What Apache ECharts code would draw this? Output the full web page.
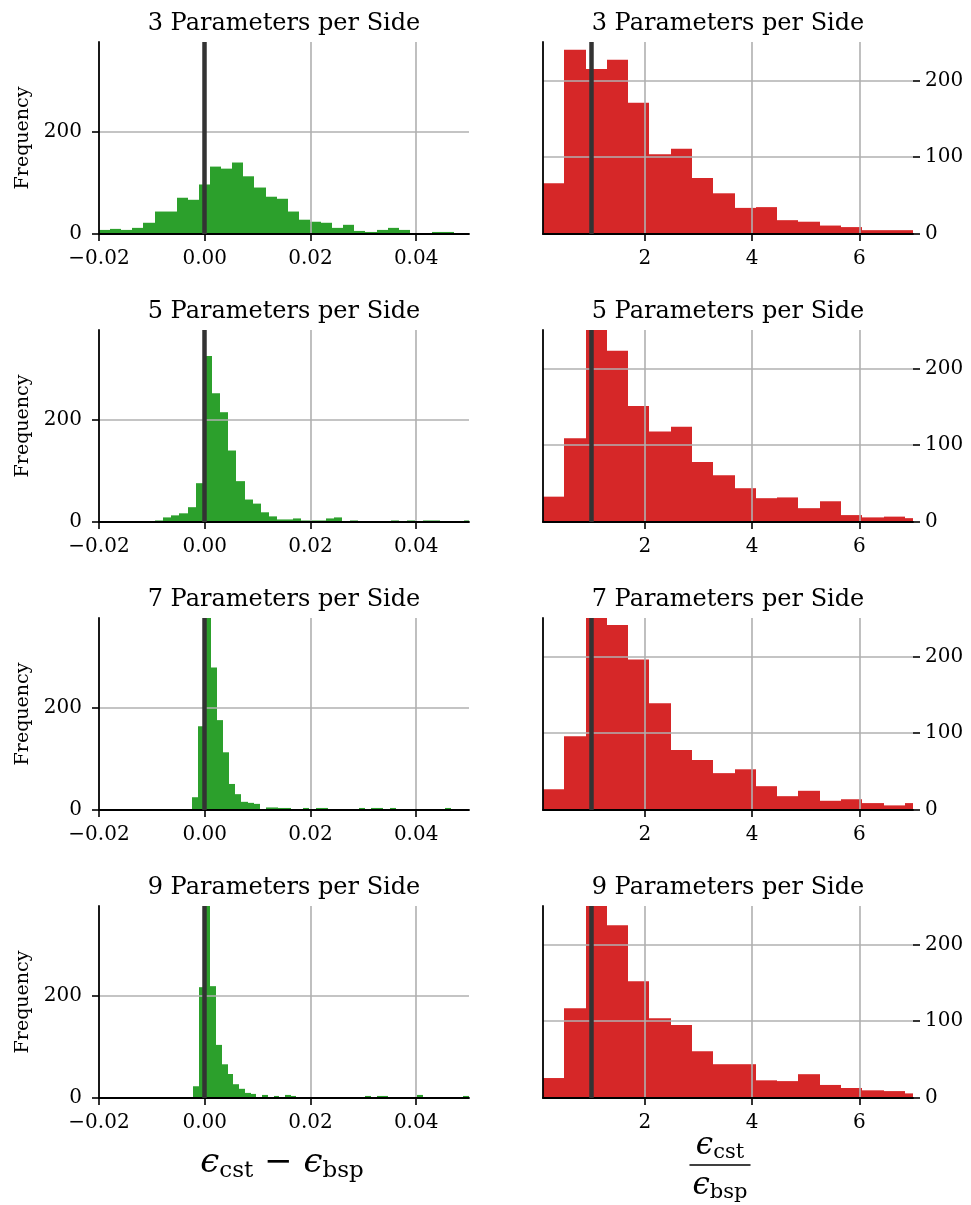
<!DOCTYPE html>
<html><head><meta charset="utf-8">
<script src="https://cdn.jsdelivr.net/npm/echarts@6/dist/echarts.min.js"></script>
<style>html,body{margin:0;padding:0;background:#fff}#c{width:971px;height:1205px}</style>
</head><body><div id="c"></div>
<script>
// ---------------- data ----------------
const panelTitles = ['3 Parameters per Side', '5 Parameters per Side', '7 Parameters per Side', '9 Parameters per Side'];

// left column: histogram of eps_cst - eps_bsp (bin start, bin width, counts)
const diffBinStart = [-0.02, -0.00939, -0.00238, -0.00219];
const diffBinWidth = [0.0021, 0.001538, 0.001167, 0.001086];
const diffCounts3 = [8, 10, 8, 12, 22, 44, 44, 71, 67, 97, 132, 128, 140, 113, 91, 73, 69, 44, 28, 24, 22, 12, 18, 6, 4, 8, 12, 8, 2, 1, 4, 4];
const diffCounts5 = [3, 9, 13, 17, 29, 76, 325, 252, 215, 140, 80, 44, 36, 19, 11, 5, 5, 7, 3, 3, 3, 7, 9, 1, 3, 1, 1, 1, 1, 3, 1, 3, 1, 3, 3, 1, 1, 1, 3];
const diffCounts7 = [25, 164, 410, 279, 176, 113, 51, 31, 16, 14, 12, 2, 5, 5, 4, 4, 1, 1, 4, 1, 4, 4, 1, 0, 0, 1, 1, 4, 0, 4, 4, 1, 4, 0, 1, 0, 1, 0, 1, 0, 1, 4, 0, 1, 0, 1];
const diffCounts9 = [23, 217, 440, 219, 104, 66, 47, 27, 18, 10, 8, 1, 6, 1, 4, 1, 6, 4, 1, 0, 1, 0, 0, 1, 0, 0, 1, 0, 0, 0, 4, 0, 4, 4, 0, 0, 1, 0, 0, 6, 0, 1, 0, 0, 1, 0, 0, 4];

// right column: histogram of eps_cst / eps_bsp
const ratioBinStart = 0.1;
const ratioBinWidth = 0.397;
const ratioCounts3 = [66, 240, 215, 227, 171, 104, 111, 73, 53, 34, 35, 18, 16, 11, 9, 5, 5, 5];
const ratioCounts5 = [33, 109, 290, 223, 151, 118, 124, 78, 61, 44, 31, 32, 18, 27, 9, 6, 7, 5];
const ratioCounts7 = [27, 96, 290, 241, 196, 139, 78, 65, 48, 53, 31, 18, 25, 12, 14, 9, 6, 9];
const ratioCounts9 = [26, 117, 290, 225, 152, 104, 95, 61, 44, 44, 23, 22, 31, 17, 13, 10, 9, 6];

const diffRange = [-0.02, 0.05];
const ratioRange = [0.1, 7.0];
const diffFreqMax = 376;
const ratioFreqMax = 250;
const diffRef = 0;
const ratioRef = 1;

const diffTickValues = [-0.02, 0, 0.02, 0.04];
const diffTickLabels = ['\u22120.02', '0.00', '0.02', '0.04'];
const ratioTickValues = [2, 4, 6];
const ratioTickLabels = ['2', '4', '6'];
const diffFreqTickValues = [0, 200];
const diffFreqTickLabels = ['0', '200'];
const ratioFreqTickValues = [0, 100, 200];
const ratioFreqTickLabels = ['0', '100', '200'];

const diffCounts = [diffCounts3, diffCounts5, diffCounts7, diffCounts9];
const ratioCounts = [ratioCounts3, ratioCounts5, ratioCounts7, ratioCounts9];

// ---------------- style / layout ----------------
const FONT = '"DejaVu Serif", "Liberation Serif", serif';
const GREEN = '#2ca02c', RED = '#d62728', REFLINE = '#333333', GRIDC = '#b0b0b0';
const gridTops = [42, 330, 618, 906];
const gridH = 192, gridW = 370, leftX = 99, rightX = 543;

function bins(start, width, counts) {
  return counts.map((c, i) => [start + i * width, start + (i + 1) * width, c]);
}
function lookup(values, labels) {
  return v => { const i = values.findIndex(t => Math.abs(t - v) < 1e-9); return i >= 0 ? labels[i] : ''; };
}
function renderHist(params, api) {
  const p0 = api.coord([api.value(0), 0]);
  const p1 = api.coord([api.value(1), api.value(2)]);
  const x0 = Math.round(p0[0]), x1 = Math.round(p1[0]);
  const cs = params.coordSys;
  const rect = echarts.graphic.clipRectByRect(
    { x: x0, y: p1[1], width: x1 - x0, height: p0[1] - p1[1] },
    { x: cs.x, y: cs.y, width: cs.width, height: cs.height });
  return rect && { type: 'rect', shape: rect, style: { fill: api.visual('color') } };
}

const axisLineStyle = { color: '#000', width: 1.8 };
const tickStyle = { color: '#000', width: 1.6 };
const labelStyle = { fontFamily: FONT, fontSize: 20, color: '#000' };
const splitStyle = { color: GRIDC, width: 1.6 };

const grids = [], xAxes = [], yAxes = [], series = [], graphics = [];

for (let r = 0; r < 4; r++) {
  const top = gridTops[r];
  grids.push({ left: leftX, top: top, width: gridW, height: gridH });
  grids.push({ left: rightX, top: top, width: gridW, height: gridH });

  xAxes.push({
    gridIndex: 2 * r, type: 'value', min: diffRange[0], max: diffRange[1], interval: 0.02, z: 3,
    axisLine: { show: true, onZero: false, lineStyle: axisLineStyle },
    axisTick: { show: true, length: 7, lineStyle: tickStyle, customValues: diffTickValues },
    axisLabel: Object.assign({ margin: 15, customValues: diffTickValues, formatter: lookup(diffTickValues, diffTickLabels) }, labelStyle),
    splitLine: { show: true, showMinLine: false, showMaxLine: true, lineStyle: splitStyle }
  });
  xAxes.push({
    gridIndex: 2 * r + 1, type: 'value', min: ratioRange[0], max: ratioRange[1], splitNumber: 3, minInterval: 2, maxInterval: 2, z: 3,
    axisLine: { show: true, onZero: false, lineStyle: axisLineStyle },
    axisTick: { show: true, length: 7, lineStyle: tickStyle, customValues: ratioTickValues },
    axisLabel: Object.assign({ margin: 15, customValues: ratioTickValues, formatter: lookup(ratioTickValues, ratioTickLabels) }, labelStyle),
    splitLine: { show: true, showMinLine: true, showMaxLine: true, lineStyle: splitStyle }
  });

  yAxes.push({
    gridIndex: 2 * r, type: 'value', min: 0, max: diffFreqMax, interval: 200, z: 3,
    name: 'Frequency', nameLocation: 'middle', nameGap: 66,
    nameTextStyle: { fontFamily: FONT, fontSize: 19, color: '#000' },
    axisLine: { show: true, onZero: false, lineStyle: axisLineStyle },
    axisTick: { show: true, length: 7, lineStyle: tickStyle, customValues: diffFreqTickValues },
    axisLabel: Object.assign({ margin: 17, customValues: diffFreqTickValues, formatter: lookup(diffFreqTickValues, diffFreqTickLabels) }, labelStyle),
    splitLine: { show: true, showMinLine: false, showMaxLine: true, lineStyle: splitStyle }
  });
  yAxes.push({
    gridIndex: 2 * r + 1, type: 'value', position: 'right', min: 0, max: ratioFreqMax, interval: 100, z: 3,
    axisLine: { show: false },
    axisTick: { show: true, length: 7, lineStyle: tickStyle, customValues: ratioFreqTickValues },
    axisLabel: Object.assign({ margin: 12, customValues: ratioFreqTickValues, formatter: lookup(ratioFreqTickValues, ratioFreqTickLabels) }, labelStyle),
    splitLine: { show: true, showMinLine: false, showMaxLine: true, lineStyle: splitStyle }
  });

  series.push({
    type: 'custom', xAxisIndex: 2 * r, yAxisIndex: 2 * r, renderItem: renderHist,
    encode: { x: [0, 1], y: 2 }, itemStyle: { color: GREEN }, silent: true,
    data: bins(diffBinStart[r], diffBinWidth[r], diffCounts[r]),
    markLine: { silent: true, symbol: ['none', 'none'], label: { show: false }, z: 6,
      lineStyle: { color: REFLINE, width: 4.5, type: 'solid' }, data: [{ xAxis: diffRef }] }
  });
  series.push({
    type: 'custom', xAxisIndex: 2 * r + 1, yAxisIndex: 2 * r + 1, renderItem: renderHist,
    encode: { x: [0, 1], y: 2 }, itemStyle: { color: RED }, silent: true,
    data: bins(ratioBinStart, ratioBinWidth, ratioCounts[r]),
    markLine: { silent: true, symbol: ['none', 'none'], label: { show: false }, z: 6,
      lineStyle: { color: REFLINE, width: 4.5, type: 'solid' }, data: [{ xAxis: ratioRef }] }
  });

  graphics.push({ type: 'text', x: leftX + gridW / 2, y: top - 6, style: { text: panelTitles[r], font: '24px ' + FONT, fill: '#000', align: 'center', verticalAlign: 'bottom' } });
  graphics.push({ type: 'text', x: rightX + gridW / 2, y: top - 6, style: { text: panelTitles[r], font: '24px ' + FONT, fill: '#000', align: 'center', verticalAlign: 'bottom' } });
}
// left-spine axes for the right column
for (let r = 0; r < 4; r++) {
  yAxes.push({
    gridIndex: 2 * r + 1, type: 'value', position: 'left', min: 0, max: ratioFreqMax, z: 3,
    axisLine: { show: true, onZero: false, lineStyle: axisLineStyle },
    axisTick: { show: false }, axisLabel: { show: false }, splitLine: { show: false }
  });
}

// ---------------- math-style axis labels ----------------
const measureCtx = document.createElement('canvas').getContext('2d');
function tw(text, font) { measureCtx.font = font; return measureCtx.measureText(text).width; }
const BIG = 'italic 34px ' + FONT, BIGUP = '34px ' + FONT, SMALL = '23px ' + FONT;
const fBIG = 'italic 31px ' + FONT, fSMALL = '21px ' + FONT;
function mathRun(parts, cx, cy) {
  const widths = parts.map(p => tw(p.t, p.f));
  const total = widths.reduce((a, b) => a + b, 0);
  let x = cx - total / 2;
  const out = [];
  parts.forEach((p, i) => {
    out.push({ type: 'text', x: x, y: cy + (p.dy || 0), style: { text: p.t, font: p.f, fill: '#000', align: 'left', verticalAlign: 'middle' } });
    x += widths[i];
  });
  return { els: out, width: total };
}
const diffLabel = mathRun([
  { t: '\u03F5', f: BIG }, { t: 'cst', f: SMALL, dy: 8 },
  { t: ' \u2212 ', f: BIGUP }, { t: '\u03F5', f: BIG }, { t: 'bsp', f: SMALL, dy: 8 }
], 282, 1163);
diffLabel.els.forEach(e => graphics.push(e));
const fracX = 720;
const num = mathRun([{ t: '\u03F5', f: fBIG }, { t: 'cst', f: fSMALL, dy: 7 }], fracX, 1146);
const den = mathRun([{ t: '\u03F5', f: fBIG }, { t: 'bsp', f: fSMALL, dy: 7 }], fracX, 1186);
num.els.forEach(e => graphics.push(e));
den.els.forEach(e => graphics.push(e));
const fracW = Math.max(num.width, den.width) + 6;
graphics.push({ type: 'line', shape: { x1: fracX - fracW / 2, y1: 1165, x2: fracX + fracW / 2, y2: 1165 }, style: { stroke: '#000', lineWidth: 1.6 } });

const chart = echarts.init(document.getElementById('c'), null, { renderer: 'canvas' });
chart.setOption({
  animation: false,
  backgroundColor: '#fff',
  grid: grids, xAxis: xAxes, yAxis: yAxes, series: series, graphic: graphics
});
</script>
</body></html>
